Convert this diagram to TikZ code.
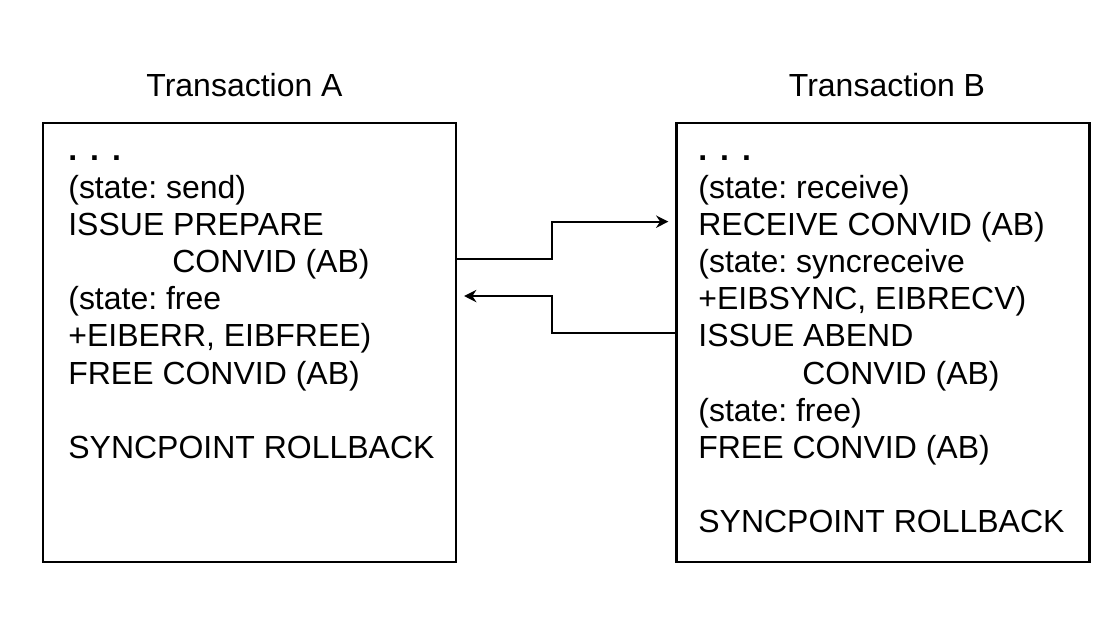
\documentclass[tikz,border=0pt]{standalone}
\usepackage{fontspec}
\setmainfont{Liberation Sans}
\usetikzlibrary{arrows.meta,positioning}
\frenchspacing

\begin{document}
\begin{tikzpicture}[
    every node/.style={font=\fontsize{18.2}{21}\selectfont},
    box/.style={rectangle, draw, line width=1.2pt, minimum width=8.26cm, minimum height=8.78cm, inner sep=0pt},
    title/.style={inner sep=0pt},
    stmt/.style={anchor=base west, inner sep=0pt},
    port/.style={yshift=0.275cm},
    arrow/.style={-{Stealth[length=7pt,width=7pt]}, line width=1.1pt, shorten >=4pt}
]
\useasboundingbox (0,0) rectangle (22.26,12.68);

% Transaction boxes
\node[box] (boxA) at (4.99,5.83) {};
\node[box] (boxB) at (17.66,5.83) {};

% Titles
\node[title, above=0.5cm of boxA, xshift=-0.1cm] (titleA) {Transaction A};
\node[title, above=0.5cm of boxB, xshift=0.08cm] (titleB) {Transaction B};

% Statements of A
\foreach \txt [count=\i] in {
    {\textbf{.\hspace{0.26cm}.\hspace{0.26cm}.}},
    {(state: send)},
    {ISSUE PREPARE},
    {\hspace*{2.08cm}CONVID (AB)},
    {(state: free},
    {+EIBERR, EIBFREE)},
    {FREE CONVID (AB)},
    {},
    {SYNCPOINT ROLLBACK}}
  \node[stmt] (a\i) at (1.36,{9.46-0.744*(\i-1)}) {\txt};

% Statements of B
\foreach \txt [count=\i] in {
    {\textbf{.\hspace{0.26cm}.\hspace{0.26cm}.}},
    {(state: receive)},
    {RECEIVE CONVID (AB)},
    {(state: syncreceive},
    {+EIBSYNC, EIBRECV)},
    {ISSUE ABEND},
    {\hspace*{2.08cm}CONVID (AB)},
    {(state: free)},
    {FREE CONVID (AB)},
    {},
    {SYNCPOINT ROLLBACK}}
  \node[stmt] (b\i) at (13.96,{9.46-0.744*(\i-1)}) {\txt};

% Connector ends
\coordinate[port] (outA) at (a4.base -| boxA.east);
\coordinate[port] (inB) at (b3.base -| boxB.west);
\coordinate[port] (outB) at (b6.base -| boxB.west);
\coordinate[port] (inA) at (a5.base -| boxA.east);
\coordinate (bend) at (11.04,0);

% Connectors
\draw[arrow] (outA) -| (bend |- inB) -- (inB);
\draw[arrow] (outB) -| (bend |- inA) -- (inA);

\end{tikzpicture}
\end{document}
